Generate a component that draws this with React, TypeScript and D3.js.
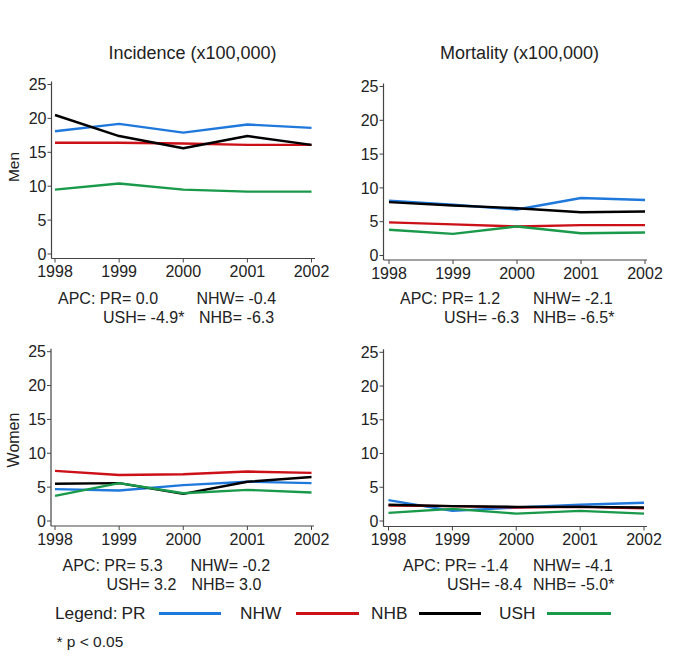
import React from "react";
import * as d3 from "d3";

const years = [1998, 1999, 2000, 2001, 2002];
const yTicks = [0, 5, 10, 15, 20, 25];
const seriesNames = ["PR", "NHW", "NHB", "USH"];
const seriesColors = ["#1f78dc", "#cc1018", "#000000", "#19994a"];

// Incidence, men
const incMenPR = [18.1, 19.2, 17.9, 19.1, 18.6];
const incMenNHW = [16.4, 16.4, 16.3, 16.1, 16.1];
const incMenNHB = [20.5, 17.4, 15.6, 17.4, 16.1];
const incMenUSH = [9.5, 10.4, 9.5, 9.2, 9.2];
// Mortality, men
const morMenPR = [8.1, 7.5, 6.8, 8.5, 8.2];
const morMenNHW = [4.9, 4.6, 4.3, 4.5, 4.5];
const morMenNHB = [7.9, 7.4, 7.0, 6.4, 6.5];
const morMenUSH = [3.8, 3.2, 4.3, 3.3, 3.4];
// Incidence, women
const incWomPR = [4.7, 4.5, 5.3, 5.8, 5.6];
const incWomNHW = [7.4, 6.8, 6.9, 7.3, 7.1];
const incWomNHB = [5.5, 5.6, 4.0, 5.8, 6.5];
const incWomUSH = [3.7, 5.6, 4.1, 4.6, 4.2];
// Mortality, women
const morWomPR = [3.1, 1.5, 2.0, 2.4, 2.7];
const morWomNHW = [2.3, 2.2, 2.0, 2.1, 1.9];
const morWomNHB = [2.4, 2.2, 2.1, 2.1, 2.0];
const morWomUSH = [1.2, 1.8, 1.1, 1.5, 1.1];

const colTitles = ["Incidence (x100,000)", "Mortality (x100,000)"];
const rowTitles = ["Men", "Women"];

const apcIncMen = ["APC: PR= 0.0", "NHW= -0.4", "USH= -4.9*", "NHB= -6.3"];
const apcMorMen = ["APC: PR= 1.2", "NHW= -2.1", "USH= -6.3", "NHB= -6.5*"];
const apcIncWom = ["APC: PR= 5.3", "NHW= -0.2", "USH= 3.2", "NHB= 3.0"];
const apcMorWom = ["APC: PR= -1.4", "NHW= -4.1", "USH= -8.4", "NHB= -5.0*"];

const FONT = "'Liberation Sans', Arial, sans-serif";
const TXT = "#222";

type PanelCfg = {
  axisX: number; x0: number; x1: number; xEnd: number;
  y0: number; y25: number; axisY: number; labBase: number;
  series: number[][]; apc: string[];
  apcX: number[]; apcY: number[];
};

const panels: PanelCfg[] = [
  { axisX: 51.5, x0: 55, x1: 311.5, xEnd: 315, y0: 254, y25: 84.5, axisY: 258.5, labBase: 276.7,
    series: [incMenPR, incMenNHW, incMenNHB, incMenUSH], apc: apcIncMen,
    apcX: [58, 196.5, 103, 199], apcY: [304.3, 323.3] },
  { axisX: 383.5, x0: 389, x1: 645, xEnd: 647, y0: 255.5, y25: 86.5, axisY: 260, labBase: 278.5,
    series: [morMenPR, morMenNHW, morMenNHB, morMenUSH], apc: apcMorMen,
    apcX: [400, 533, 444, 533], apcY: [304.3, 323.3] },
  { axisX: 51, x0: 55, x1: 311.5, xEnd: 314, y0: 521, y25: 351.7, axisY: 526, labBase: 545,
    series: [incWomPR, incWomNHW, incWomNHB, incWomUSH], apc: apcIncWom,
    apcX: [62.5, 190.5, 106.5, 191.5], apcY: [571, 590] },
  { axisX: 383.5, x0: 388.5, x1: 644, xEnd: 647, y0: 521, y25: 352.3, axisY: 526.5, labBase: 544.5,
    series: [morWomPR, morWomNHW, morWomNHB, morWomUSH], apc: apcMorWom,
    apcX: [403, 533, 447, 533], apcY: [571, 590] },
];

function Panel({ p }: { p: PanelCfg }) {
  const x = d3.scaleLinear().domain([years[0], years[years.length - 1]]).range([p.x0, p.x1]);
  const y = d3.scaleLinear().domain([0, 25]).range([p.y0, p.y25]);
  const line = d3.line<number>().x((_, i) => x(years[i])).y((v) => y(v));
  return (
    <g>
      {p.series.map((s, i) => (
        <path key={i} d={line(s) || ""} fill="none" stroke={seriesColors[i]} strokeWidth={2.4} strokeLinejoin="round" />
      ))}
      <line x1={p.axisX} x2={p.axisX} y1={y(25) - 3} y2={p.axisY} stroke="#444" strokeWidth={1.2} />
      <line x1={p.axisX} x2={p.xEnd} y1={p.axisY} y2={p.axisY} stroke="#444" strokeWidth={1.2} />
      {yTicks.map((t) => (
        <g key={t}>
          <line x1={p.axisX - 4} x2={p.axisX} y1={y(t)} y2={y(t)} stroke="#444" strokeWidth={1} />
          <text x={p.axisX - 5} y={y(t)} dy="0.35em" textAnchor="end" fontSize={16} fill={TXT}>{t}</text>
        </g>
      ))}
      {years.map((yr) => (
        <g key={yr}>
          <line x1={x(yr)} x2={x(yr)} y1={p.axisY} y2={p.axisY + 4} stroke="#444" strokeWidth={1} />
          <text x={x(yr)} y={p.labBase} textAnchor="middle" fontSize={16} fill={TXT}>{yr}</text>
        </g>
      ))}
      <text x={p.apcX[0]} y={p.apcY[0]} fontSize={16} fill={TXT}>{p.apc[0]}</text>
      <text x={p.apcX[1]} y={p.apcY[0]} fontSize={16} fill={TXT}>{p.apc[1]}</text>
      <text x={p.apcX[2]} y={p.apcY[1]} fontSize={16} fill={TXT}>{p.apc[2]}</text>
      <text x={p.apcX[3]} y={p.apcY[1]} fontSize={16} fill={TXT}>{p.apc[3]}</text>
    </g>
  );
}

const legendTextX = [121.5, 240, 371, 499];
const legendLineX = [[159, 221], [296, 359], [419, 481], [547, 611]];

export default function App() {
  return (
    <svg width={685} height={659} style={{ position: "absolute", left: 0, top: 0, background: "#fff" }} fontFamily={FONT}>
      <rect width={685} height={659} fill="#fff" />
      <text x={192.5} y={59} textAnchor="middle" fontSize={18} fill={TXT}>{colTitles[0]}</text>
      <text x={519.5} y={59} textAnchor="middle" fontSize={18} fill={TXT}>{colTitles[1]}</text>
      <text transform="translate(18.5,167) rotate(-90)" textAnchor="middle" fontSize={15.5} fill={TXT}>{rowTitles[0]}</text>
      <text transform="translate(18.5,440) rotate(-90)" textAnchor="middle" fontSize={16} fill={TXT}>{rowTitles[1]}</text>
      {panels.map((p, i) => <Panel key={i} p={p} />)}
      <text x={55} y={619.3} fontSize={17.3} fill={TXT}>Legend:</text>
      {seriesNames.map((n, i) => (
        <g key={n}>
          <text x={legendTextX[i]} y={619.3} fontSize={17.3} fill={TXT}>{n}</text>
          <line x1={legendLineX[i][0]} x2={legendLineX[i][1]} y1={613.5} y2={613.5} stroke={seriesColors[i]} strokeWidth={3.2} />
        </g>
      ))}
      <text x={56.5} y={646.7} fontSize={15.5} fill={TXT}>* p &lt; 0.05</text>
    </svg>
  );
}
